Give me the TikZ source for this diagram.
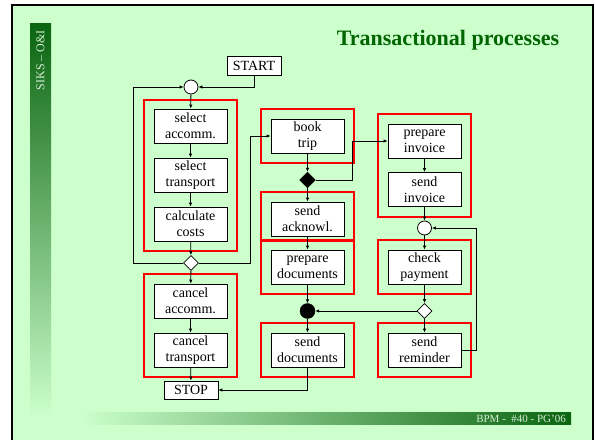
\documentclass[tikz,border=0pt]{standalone}
\usepackage{fontspec}
\setmainfont{Liberation Serif}
\usetikzlibrary{arrows.meta,shapes.geometric}
\definecolor{slidebg}{RGB}{204,255,204}
\definecolor{deepgreen}{RGB}{10,100,16}
\definecolor{titlegreen}{RGB}{0,100,0}
\definecolor{tagtext}{RGB}{215,240,215}

\begin{document}
\begin{tikzpicture}[x=1pt,y=-1pt,
  task/.style={draw=black, line width=0.8pt, fill=white, minimum width=73pt,
    minimum height=34pt, inner sep=0pt, align=center,
    font=\fontsize{14}{16}\selectfont},
  endpoint/.style={draw=black, line width=0.8pt, fill=white, minimum width=54pt,
    minimum height=19pt, inner sep=0pt, font=\fontsize{14}{16}\selectfont},
  redframe/.style={draw=red, line width=1.5pt, minimum width=93pt, inner sep=0pt},
  orjoin/.style={circle, draw, fill=white, line width=0.8pt, minimum size=14pt, inner sep=0pt},
  xorsplit/.style={diamond, draw, fill=white, line width=0.8pt, minimum size=15pt, inner sep=0pt},
  andsplit/.style={diamond, draw, fill=black, minimum size=16pt, inner sep=0pt},
  andjoin/.style={circle, draw, fill=black, minimum size=15pt, inner sep=0pt},
  flow/.style={line width=0.8pt, -{Latex[length=4pt,width=3.5pt]}},
]
\useasboundingbox (0,0) rectangle (596,439);

% slide background, frame and decorations
\fill[white] (0,0) rectangle (596,439);
\draw[fill=slidebg, line width=2.5pt] (12,5) rectangle (593,460);
\shade[top color=deepgreen, bottom color=slidebg] (30,23) rectangle (51,418);
\shade[left color=slidebg, right color=deepgreen] (80,412) rectangle (571,424);
\node[rotate=90, anchor=east, text=tagtext, inner sep=0pt,
  font=\fontsize{12}{14}\selectfont] (tag) at (40.5,30) {SIKS – O\&I};
\node[anchor=base east, text=tagtext, inner sep=0pt,
  font=\fontsize{11}{13}\selectfont] (foot) at (566,422) {BPM -\ \ \#40 - PG'06};
\node[anchor=base, text=titlegreen, inner sep=0pt,
  font=\fontsize{22}{26}\selectfont\bfseries] (title) at (448,45) {Transactional processes};

% groups (transactions)
\node[redframe, minimum height=151pt] (g1) at (190.5,175.5) {};
\node[redframe, minimum height=103pt] (g2) at (190.5,325.5) {};
\node[redframe, minimum height=54pt]  (g3) at (307.5,136) {};
\node[redframe, minimum height=49pt]  (g4) at (307.5,216.5) {};
\node[redframe, minimum height=54pt]  (g5) at (307.5,267) {};
\node[redframe, minimum height=54pt]  (g6) at (307.5,350) {};
\node[redframe, minimum height=103pt] (g7) at (424.5,165.5) {};
\node[redframe, minimum height=54pt]  (g8) at (424.5,267) {};
\node[redframe, minimum height=54pt]  (g9) at (424.5,350) {};

% start / stop
\node[endpoint] (start) at (254,65.5) {START};
\node[endpoint, minimum height=18pt] (stop) at (191,390) {STOP};

% left column
\node[orjoin] (c1) at (191,87) {};
\node[task] (selacc) at (190.5,126) {select\\accomm.};
\node[task] (seltr) at (190.5,175) {select\\transport};
\node[task] (calc) at (190.5,224) {calculate\\costs};
\node[xorsplit] (d1) at (191,263) {};
\node[task] (canacc) at (190.5,301) {cancel\\accomm.};
\node[task] (cantr) at (190.5,350) {cancel\\transport};

% middle column
\node[task] (book) at (307.5,136) {book\\trip};
\node[andsplit] (bd) at (307.5,180) {};
\node[task] (ack) at (307.5,219) {send\\acknowl.};
\node[task] (prep) at (307.5,267) {prepare\\documents};
\node[andjoin] (bc) at (307.5,311) {};
\node[task] (senddoc) at (307.5,350) {send\\documents};

% right column
\node[task] (pinv) at (424.5,141) {prepare\\invoice};
\node[task] (sinv) at (424.5,189.5) {send\\invoice};
\node[orjoin] (c2) at (424.5,228) {};
\node[task] (chk) at (424.5,267) {check\\payment};
\node[xorsplit] (d2) at (424.5,311) {};
\node[task] (rem) at (424.5,350) {send\\reminder};

% bend points
\coordinate (loopL) at (133,263);
\coordinate (jog1) at (250,263);
\coordinate (jog2) at (352,180);
\coordinate (jog3) at (476,350);

% control flow
\draw[flow] (start.south) |- (c1.east);
\draw[flow] (c1) -- (selacc);
\draw[flow] (selacc) -- (seltr);
\draw[flow] (seltr) -- (calc);
\draw[flow] (calc) -- (d1);
\draw[flow] (d1.west) -- (loopL) |- (c1.west);
\draw[flow] (d1.east) -- (jog1) |- (book.west);
\draw[flow] (d1) -- (canacc);
\draw[flow] (canacc) -- (cantr);
\draw[flow] (cantr) -- (stop);
\draw[flow] (book) -- (bd);
\draw[flow] (bd.east) -- (jog2) |- (pinv.west);
\draw[flow] (bd) -- (ack);
\draw[flow] (ack) -- (prep);
\draw[flow] (prep) -- (bc);
\draw[flow] (bc) -- (senddoc);
\draw[flow] (senddoc.south) |- (stop.east);
\draw[flow] (pinv) -- (sinv);
\draw[flow] (sinv) -- (c2);
\draw[flow] (c2) -- (chk);
\draw[flow] (chk) -- (d2);
\draw[flow] (d2) -- (bc);
\draw[flow] (d2) -- (rem);
\draw[flow] (rem.east) -- (jog3) |- (c2.east);
\end{tikzpicture}
\end{document}
